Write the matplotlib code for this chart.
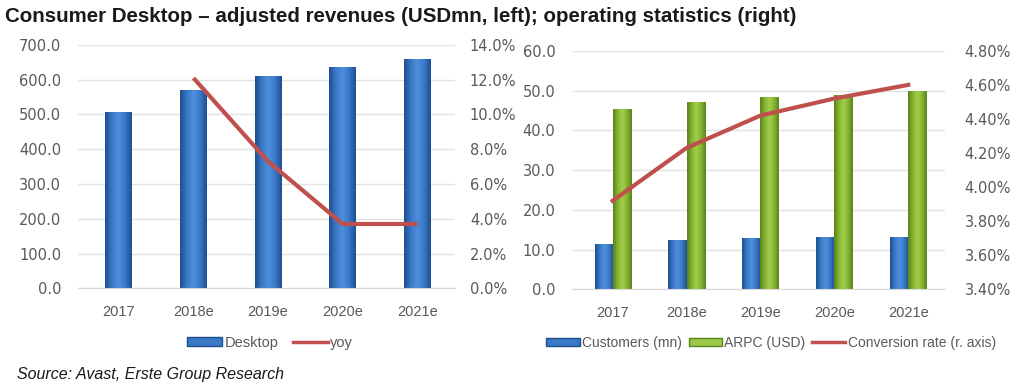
import numpy as np
import matplotlib
matplotlib.use("Agg")
import matplotlib.pyplot as plt
from matplotlib.colors import LinearSegmentedColormap
from matplotlib.lines import Line2D
from matplotlib.patches import Patch

# ---------------- data ----------------
years = ["2017", "2018e", "2019e", "2020e", "2021e"]
desktop_rev = [508, 570, 612, 636, 660]
yoy_pct = [None, 12.1, 7.3, 3.7, 3.7]
customers_mn = [11.3, 12.4, 12.8, 13.1, 13.2]
arpc_usd = [45.3, 47.2, 48.5, 48.8, 49.9]
conversion_pct = [3.92, 4.23, 4.42, 4.52, 4.60]

title_text = "Consumer Desktop \u2013 adjusted revenues (USDmn, left); operating statistics (right)"
source_text = "Source: Avast, Erste Group Research"

arial = "Liberation Sans"
GREY = "#595959"
GRID = "#E3E3E3"
RED = "#C0504D"

fig = plt.figure(figsize=(10.24, 3.91), dpi=100)
fig.patch.set_facecolor("white")

blue_cmap = LinearSegmentedColormap.from_list(
    "b", ["#1E4F8F", "#3A78C8", "#4F8FDC", "#3A78C8", "#1E4F8F"])
green_cmap = LinearSegmentedColormap.from_list(
    "g", ["#5A8419", "#86B431", "#A2CF4C", "#86B431", "#5A8419"])


def gradient_bars(ax, bars, cmap):
    grad = np.linspace(0, 1, 64).reshape(1, -1)
    for b in bars:
        x0, y0 = b.get_x(), b.get_y()
        w, h = b.get_width(), b.get_height()
        b.set_facecolor("none")
        b.set_edgecolor("none")
        im = ax.imshow(grad, cmap=cmap, extent=[x0, x0 + w, y0, y0 + h],
                       aspect="auto", zorder=2, interpolation="bicubic")
        im.set_clip_path(b)


def style_axes(ax, ax2):
    for a in (ax, ax2):
        for s in a.spines.values():
            s.set_visible(False)
        a.tick_params(length=0, colors=GREY)
    ax.spines["bottom"].set_visible(True)
    ax.spines["bottom"].set_color("#D9D9D9")
    ax.grid(axis="y", color=GRID, linewidth=1)
    ax.set_axisbelow(True)
    for lbl in ax.get_yticklabels() + ax2.get_yticklabels():
        lbl.set_fontfamily("DejaVu Sans")
        lbl.set_fontsize(10.5)
        lbl.set_color(GREY)
    for lbl in ax.get_xticklabels():
        lbl.set_fontfamily(arial)
        lbl.set_fontsize(10.5)
        lbl.set_color(GREY)
    ax.tick_params(axis="x", pad=12)
    ax.tick_params(axis="y", pad=12)
    ax2.tick_params(axis="y", pad=14)


x = np.arange(len(years))

# ---------------- left chart ----------------
axL = fig.add_axes([0.076, 0.2627, 0.368, 0.6223])
axL2 = axL.twinx()
barsL = axL.bar(x, desktop_rev, width=0.36)
axL.set_ylim(0, 700)
axL.set_yticks(np.arange(0, 701, 100))
axL.set_yticklabels([f"{v:.1f}" for v in np.arange(0, 701, 100)])
axL.set_xlim(-0.55, 4.5)
axL.set_xticks(x)
axL.set_xticklabels(years)
gradient_bars(axL, barsL, blue_cmap)
yx = [i for i, v in enumerate(yoy_pct) if v is not None]
yv = [v for v in yoy_pct if v is not None]
axL2.plot(yx, yv, color=RED, linewidth=3, solid_capstyle="butt", zorder=5)
axL2.set_ylim(0, 14)
axL2.set_yticks(np.arange(0, 14.1, 2))
axL2.set_yticklabels([f"{v:.1f}%" for v in np.arange(0, 14.1, 2)])
style_axes(axL, axL2)
axL2.tick_params(axis="y", pad=11)

legL = fig.legend(
    handles=[Patch(facecolor="#3A78C8", edgecolor="#1E4F8F"),
             Line2D([0], [0], color=RED, linewidth=2.5)],
    labels=["Desktop", "yoy"], loc="center", bbox_to_anchor=(270 / 1024, 1 - 343 / 391),
    ncol=2, frameon=False, handlelength=2.4, handleheight=0.55, handletextpad=0.15,
    columnspacing=1.0, prop={"family": arial, "size": 10.5})
for t in legL.get_texts():
    t.set_color(GREY)

# ---------------- right chart ----------------
axR = fig.add_axes([0.5586, 0.260, 0.3644, 0.610])
axR2 = axR.twinx()
bw = 0.245
barsC = axR.bar(x - bw / 2, customers_mn, width=bw)
barsA = axR.bar(x + bw / 2, arpc_usd, width=bw)
axR.set_ylim(0, 60)
axR.set_yticks(np.arange(0, 61, 10))
axR.set_yticklabels([f"{v:.1f}" for v in np.arange(0, 61, 10)])
axR.set_xlim(-0.55, 4.5)
axR.set_xticks(x)
axR.set_xticklabels(years)
gradient_bars(axR, barsC, blue_cmap)
gradient_bars(axR, barsA, green_cmap)
axR2.plot(x, conversion_pct, color=RED, linewidth=3, zorder=5)
axR2.set_ylim(3.4, 4.8)
axR2.set_yticks(np.arange(3.4, 4.81, 0.2))
axR2.set_yticklabels([f"{v:.2f}%" for v in np.arange(3.4, 4.81, 0.2)])
style_axes(axR, axR2)

legR = fig.legend(
    handles=[Patch(facecolor="#3A78C8", edgecolor="#1E4F8F"),
             Patch(facecolor="#9BC847", edgecolor="#5A8419"),
             Line2D([0], [0], color=RED, linewidth=2.5)],
    labels=["Customers (mn)", "ARPC (USD)", "Conversion rate (r. axis)"],
    loc="center", bbox_to_anchor=(771 / 1024, 1 - 343 / 391),
    ncol=3, frameon=False, handlelength=2.4, handleheight=0.55, handletextpad=0.15,
    columnspacing=0.5, prop={"family": arial, "size": 10})
for t in legR.get_texts():
    t.set_color(GREY)

# ---------------- texts ----------------
fig.text(5 / 1024, 1 - 17 / 391, title_text, fontfamily=arial, fontweight="bold",
         fontsize=14.8, color="#1A1A1A", va="center", ha="left")
fig.text(17 / 1024, 1 - 375 / 391, source_text, fontfamily=arial, style="italic",
         fontsize=11.5, color="#1A1A1A", va="center", ha="left")

fig.savefig("out.png", dpi=100, facecolor="white")
